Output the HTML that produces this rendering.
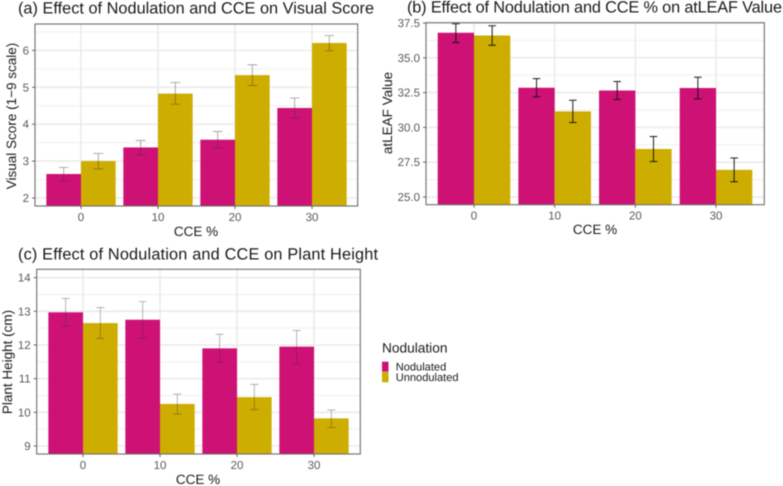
<!DOCTYPE html>
<html lang="en">
<head>
<meta charset="utf-8">
<title>Effect of Nodulation and CCE</title>
<style>
html,body{margin:0;padding:0;background:#fff;}
svg{display:block;font-family:"Liberation Sans",Arial,sans-serif;filter:blur(0.4px);text-rendering:geometricPrecision;}
.title{font-size:16.3px;fill:#1a1a1a;}
.axis-title{font-size:13.5px;fill:#1a1a1a;}
.tick{font-size:11.5px;fill:#595959;}
</style>
</head>
<body>
<svg id="figure" xmlns="http://www.w3.org/2000/svg" width="783" height="486" viewBox="0 0 783 486">
<rect x="0" y="0" width="783" height="486" fill="#ffffff"/>
<g id="panel-a"></g>
<g id="panel-b"></g>
<g id="panel-c"></g>
<text class="title" x="18" y="13.5" textLength="356">(a) Effect of Nodulation and CCE on Visual Score</text>
<text class="title" x="407" y="12.5" textLength="375">(b) Effect of Nodulation and CCE % on atLEAF Value</text>
<text class="title" x="18" y="259.5" textLength="360">(c) Effect of Nodulation and CCE on Plant Height</text>
<text class="axis-title" x="196" y="236" text-anchor="middle">CCE %</text>
<text class="axis-title" x="595" y="234" text-anchor="middle">CCE %</text>
<text class="axis-title" x="198" y="484" text-anchor="middle">CCE %</text>
<text class="axis-title" transform="translate(16 116) rotate(-90)" text-anchor="middle">Visual Score (1−9 scale)</text>
<text class="axis-title" transform="translate(392 113) rotate(-90)" text-anchor="middle">atLEAF Value</text>
<text class="axis-title" transform="translate(12 362) rotate(-90)" text-anchor="middle">Plant Height (cm)</text>
<g>
<text x="382" y="352.7" font-size="13.7" fill="#1a1a1a">Nodulation</text>
<rect x="382" y="361.7" width="6.5" height="10" fill="#CE1174"/>
<rect x="382" y="372" width="6.5" height="10.3" fill="#CDAD00"/>
<text x="395.7" y="370.7" font-size="11.1" fill="#1a1a1a">Nodulated</text>
<text x="395.7" y="381" font-size="11.1" fill="#1a1a1a">Unnodulated</text>
</g>
</svg>
<script>
// Shared categories
const categories = ['0', '10', '20', '30'];

// Panel (a) visual score
const aTicks = [2, 3, 4, 5, 6];
const aNodulated = [2.65, 3.37, 3.58, 4.44];
const aNodulatedLow = [2.45, 3.17, 3.35, 4.17];
const aNodulatedHigh = [2.83, 3.56, 3.80, 4.71];
const aUnnodulated = [3.0, 4.83, 5.33, 6.2];
const aUnnodulatedLow = [2.79, 4.54, 5.05, 5.99];
const aUnnodulatedHigh = [3.21, 5.13, 5.61, 6.40];

// Panel (b) atLEAF value
const bTicks = [25, 27.5, 30, 32.5, 35, 37.5];
const bTickLabels = ['25.0', '27.5', '30.0', '32.5', '35.0', '37.5'];
const bNodulated = [36.8, 32.85, 32.65, 32.83];
const bNodulatedLow = [36.1, 32.2, 32.0, 32.05];
const bNodulatedHigh = [37.45, 33.5, 33.3, 33.6];
const bUnnodulated = [36.6, 31.15, 28.45, 26.95];
const bUnnodulatedLow = [35.9, 30.35, 27.55, 26.1];
const bUnnodulatedHigh = [37.3, 31.95, 29.35, 27.8];

// Panel (c) plant height
const cTicks = [9, 10, 11, 12, 13, 14];
const cNodulated = [12.97, 12.75, 11.9, 11.95];
const cNodulatedLow = [12.56, 12.2, 11.48, 11.44];
const cNodulatedHigh = [13.38, 13.29, 12.32, 12.43];
const cUnnodulated = [12.65, 10.25, 10.45, 9.82];
const cUnnodulatedLow = [12.19, 9.95, 10.08, 9.55];
const cUnnodulatedHigh = [13.11, 10.54, 10.83, 10.07];

const SVG_NS = 'http://www.w3.org/2000/svg';
const NOD_COLOR = '#CE1174';
const UNNOD_COLOR = '#CDAD00';

function make(parent, tag, props) {
  const el = document.createElementNS(SVG_NS, tag);
  for (const k in props) el.setAttribute(k, props[k]);
  parent.appendChild(el);
  return el;
}

function drawPanel(p) {
  const root = document.getElementById(p.id);
  const y = v => p.y0 + (v - p.v0) * p.pxPerUnit;
  const x = i => p.x0 + i * p.band;
  const barW = p.band * 0.45;

  const bg = make(root, 'rect', {x: p.left, y: p.top, width: p.right - p.left, height: p.bottom - p.top, fill: '#ffffff'});
  
  

  // minor gridlines, halfway between major ticks
  const step = p.ticks[1] - p.ticks[0];
  const first = p.ticks[0] - step / 2;
  for (let k = 0; k <= p.ticks.length; k++) {
    const yy = y(first + k * step);
    if (yy < p.top || yy > p.bottom) continue;
    const minor = make(root, 'line', {x1: p.left, x2: p.right, y1: yy, y2: yy, stroke: '#efefef', 'stroke-width': 1});
    
    
  }
  // major gridlines
  p.ticks.forEach(t => {
    const major = make(root, 'line', {x1: p.left, x2: p.right, y1: y(t), y2: y(t), stroke: '#ebebeb', 'stroke-width': 1.6});
    
    
  });
  categories.forEach((c, i) => {
    const major = make(root, 'line', {x1: x(i), x2: x(i), y1: p.top, y2: p.bottom, stroke: '#ebebeb', 'stroke-width': 1.6});
    
    
  });

  // bars
  categories.forEach((c, i) => {
    const nod = make(root, 'rect', {x: x(i) - barW, y: y(p.nod[i]), width: barW, height: p.bottom - y(p.nod[i]), fill: NOD_COLOR});
    
    
    const un = make(root, 'rect', {x: x(i), y: y(p.unnod[i]), width: barW, height: p.bottom - y(p.unnod[i]), fill: UNNOD_COLOR});
    
    
  });

  // error bars
  const err = (cx, lo, hi) => {
    const g = make(root, 'g', {stroke: p.errColor, 'stroke-width': p.errWidth, 'stroke-opacity': p.errOpacity, fill: 'none'});
    
    
    make(g, 'path', {d: 'M' + (cx - p.cap) + ' ' + y(hi) + 'H' + (cx + p.cap) + 'M' + cx + ' ' + y(hi) + 'V' + y(lo) + 'M' + (cx - p.cap) + ' ' + y(lo) + 'H' + (cx + p.cap)});
  };
  categories.forEach((c, i) => {
    err(x(i) - barW / 2, p.nodLow[i], p.nodHigh[i]);
    err(x(i) + barW / 2, p.unnodLow[i], p.unnodHigh[i]);
  });

  // border
  const border = make(root, 'rect', {x: p.left, y: p.top, width: p.right - p.left, height: p.bottom - p.top, fill: 'none', stroke: '#6e6e6e', 'stroke-width': 1.1});
  
  

  // y axis
  p.ticks.forEach((t, i) => {
    const mark = make(root, 'line', {x1: p.left - 3, x2: p.left, y1: y(t), y2: y(t), stroke: '#555555', 'stroke-width': 0.9});
    
    
    const label = make(root, 'text', {x: p.left - 6, y: y(t) + 4, 'text-anchor': 'end', class: 'tick'});
    
    
    label.textContent = p.tickLabels ? p.tickLabels[i] : String(t);
  });
  // x axis
  categories.forEach((c, i) => {
    const mark = make(root, 'line', {x1: x(i), x2: x(i), y1: p.bottom, y2: p.bottom + 3, stroke: '#555555', 'stroke-width': 0.9});
    
    
    const label = make(root, 'text', {x: x(i), y: p.bottom + 15, 'text-anchor': 'middle', class: 'tick'});
    
    
    label.textContent = c;
  });
}

drawPanel({
  id: 'panel-a', left: 35, right: 357.7, top: 24, bottom: 206,
  x0: 81, band: 77, y0: 198, v0: 2, pxPerUnit: -36.9,
  ticks: aTicks, nod: aNodulated, nodLow: aNodulatedLow, nodHigh: aNodulatedHigh,
  unnod: aUnnodulated, unnodLow: aUnnodulatedLow, unnodHigh: aUnnodulatedHigh,
  errColor: '#333333', errOpacity: 0.5, errWidth: 0.8, cap: 4.8
});
drawPanel({
  id: 'panel-b', left: 426, right: 764.3, top: 22.7, bottom: 204.7,
  x0: 474, band: 80.67, y0: 197, v0: 25, pxPerUnit: -13.92,
  ticks: bTicks, tickLabels: bTickLabels, nod: bNodulated, nodLow: bNodulatedLow, nodHigh: bNodulatedHigh,
  unnod: bUnnodulated, unnodLow: bUnnodulatedLow, unnodHigh: bUnnodulatedHigh,
  errColor: '#111111', errOpacity: 0.95, errWidth: 1, cap: 3.8
});
drawPanel({
  id: 'panel-c', left: 36.7, right: 360.3, top: 269.3, bottom: 454,
  x0: 83, band: 77, y0: 446, v0: 9, pxPerUnit: -33.67,
  ticks: cTicks, nod: cNodulated, nodLow: cNodulatedLow, nodHigh: cNodulatedHigh,
  unnod: cUnnodulated, unnodLow: cUnnodulatedLow, unnodHigh: cUnnodulatedHigh,
  errColor: '#333333', errOpacity: 0.5, errWidth: 0.7, cap: 4
});
</script>
</body>
</html>
